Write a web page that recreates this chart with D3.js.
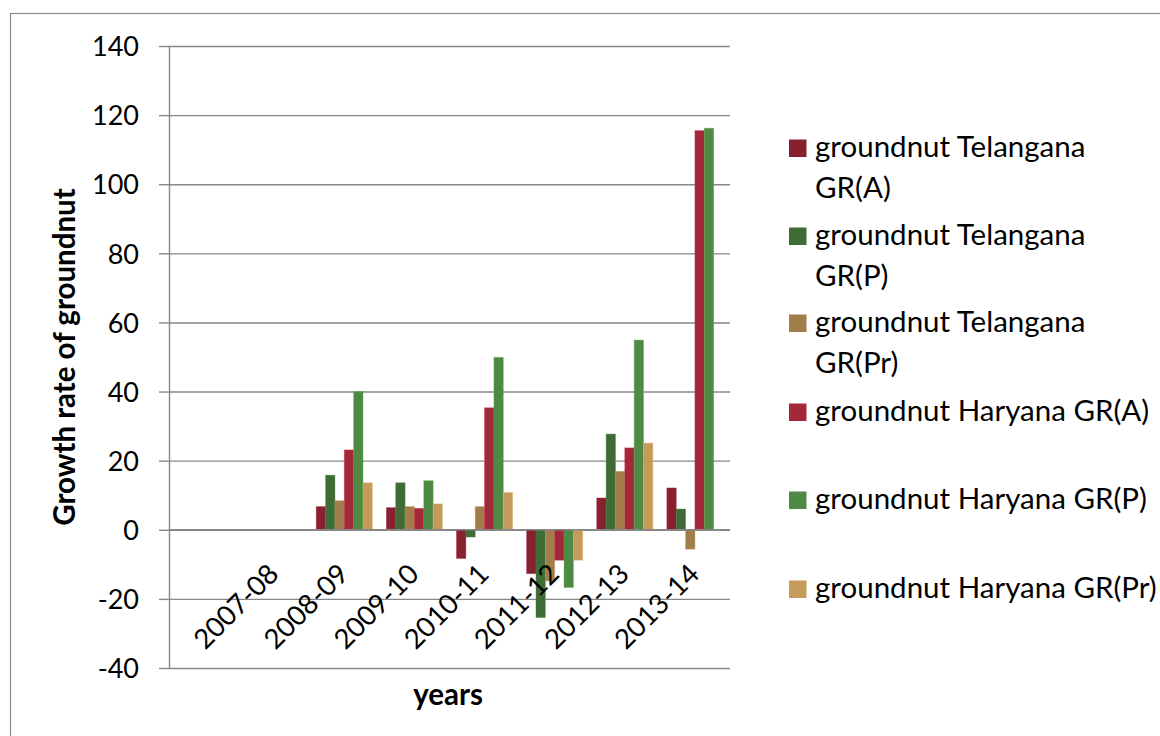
<!DOCTYPE html>
<html><head><meta charset="utf-8">
<script src="https://cdn.jsdelivr.net/npm/d3@7"></script>
<style>
body{margin:0;background:#fff;overflow:hidden}
text{font-family:Lato,"Open Sans",sans-serif;fill:#000}
</style>
</head><body>
<svg id="chart" width="1160" height="736"></svg>
<script>
// ---- data ----
const categories = ["", "2007-08", "2008-09", "2009-10", "2010-11", "2011-12", "2012-13", "2013-14"];
const seriesNames = ["groundnut Telangana GR(A)", "groundnut Telangana GR(P)", "groundnut Telangana GR(Pr)",
                     "groundnut Haryana GR(A)", "groundnut Haryana GR(P)", "groundnut Haryana GR(Pr)"];
const legendLines = [["groundnut Telangana", "GR(A)"], ["groundnut Telangana", "GR(P)"], ["groundnut Telangana", "GR(Pr)"],
                     ["groundnut Haryana GR(A)"], ["groundnut Haryana GR(P)"], ["groundnut Haryana GR(Pr)"]];
const telanganaA  = [null, null, 6.7, 6.4, -8.3, -12.7, 9.2, 12.1];
const telanganaP  = [null, null, 15.8, 13.6, -2.1, -25.4, 27.7, 6.0];
const telanganaPr = [null, null, 8.4, 6.7, 6.7, -14.8, 16.9, -5.6];
const haryanaA    = [null, null, 23.1, 6.2, 35.3, -8.8, 23.7, 115.5];
const haryanaP    = [null, null, 40.0, 14.2, 49.9, -16.7, 54.9, 116.2];
const haryanaPr   = [null, null, 13.6, 7.5, 10.8, -8.8, 25.1, 0.1];
const yTicks = [-40, -20, 0, 20, 40, 60, 80, 100, 120, 140];
const yTickLabels = ["-40", "-20", "0", "20", "40", "60", "80", "100", "120", "140"];
const colors = ["#87202F", "#3F6C36", "#A07D49", "#A3283A", "#4F8A44", "#C59B5C"];

const series = [telanganaA, telanganaP, telanganaPr, haryanaA, haryanaP, haryanaPr];

// ---- layout ----
const svg = d3.select("#chart");
const L = 169, R = 730, T = 46, B = 668;

svg.append("rect").attr("x", 10.5).attr("y", 13.5).attr("width", 1300).attr("height", 900)
   .attr("fill", "none").attr("stroke", "#8a8a8a").attr("stroke-width", 1.2);

const x = d3.scaleBand().domain(categories).range([L, R]).paddingInner(0).paddingOuter(0);
const xs = d3.scaleBand().domain(d3.range(series.length)).range([0, x.bandwidth()])
             .paddingInner(0).paddingOuter(0.75);
const y = d3.scaleLinear().domain([-40, 140]).range([B, T]);

// gridlines
svg.append("g").attr("transform", `translate(${L},0)`)
   .call(d3.axisLeft(y).tickValues(yTicks).tickSize(-(R - L)).tickFormat(""))
   .call(g => g.select(".domain").remove())
   .call(g => g.selectAll("line").attr("stroke", "#878787").attr("stroke-width", 1.4));

// y axis with outside ticks
svg.append("g").attr("transform", `translate(${L},0)`)
   .call(d3.axisLeft(y).tickValues(yTicks).tickSize(10).tickSizeOuter(0).tickPadding(20)
           .tickFormat((d, i) => yTickLabels[i]))
   .call(g => g.select(".domain").attr("stroke", "#878787").attr("stroke-width", 1.4))
   .call(g => g.selectAll("line").attr("stroke", "#878787").attr("stroke-width", 1.4))
   .call(g => g.selectAll("text").attr("font-size", 27).attr("font-family", "Lato").attr("fill", "#000").attr("dy", "0.36em"));

// bars
const bars = svg.append("g");
series.forEach((vals, si) => {
  bars.selectAll(null).data(categories.map((c, i) => ({c, v: vals[i]})).filter(d => d.v !== null))
    .enter().append("rect")
    .attr("x", d => x(d.c) + xs(si))
    .attr("width", xs.bandwidth())
    .attr("y", d => y(Math.max(0, d.v)))
    .attr("height", d => Math.abs(y(d.v) - y(0)))
    .attr("fill", colors[si])
    .attr("stroke", d3.color(colors[si]).brighter(0.5))
    .attr("stroke-opacity", 0.5)
    .attr("stroke-width", 0.8);
});

// zero / category axis
svg.append("line").attr("x1", L).attr("x2", R).attr("y1", y(0)).attr("y2", y(0))
   .attr("stroke", "#878787").attr("stroke-width", 1.4);

// category labels
const xAxis = svg.append("g").attr("transform", `translate(0,${y(0)})`)
   .call(d3.axisBottom(x).tickSize(0).tickPadding(0));
xAxis.select(".domain").remove();
xAxis.selectAll("text")
   .attr("font-size", 27.5).attr("font-family", "Lato").attr("fill", "#000")
   .attr("text-anchor", "end").attr("dy", 0).attr("y", 0)
   .attr("transform", "translate(6,46) rotate(-45)");

// axis titles
svg.append("text").attr("transform", `translate(75,357) rotate(-90)`)
   .attr("text-anchor", "middle").attr("font-size", 29.5).attr("font-weight", "bold")
   .text("Growth rate of groundnut");
svg.append("text").attr("x", 448).attr("y", 705).attr("text-anchor", "middle")
   .attr("font-size", 29.5).attr("font-weight", "bold").text("years");

// legend
const legendBase = [157, 245, 332, 421, 509, 598];
const leg = svg.append("g");
seriesNames.forEach((name, i) => {
  const g = leg.append("g").attr("transform", `translate(789,${legendBase[i]})`);
  g.append("rect").attr("x", 0).attr("y", -17.5).attr("width", 17.5).attr("height", 17.5).attr("fill", colors[i]);
  const t = g.append("text").attr("x", 26).attr("y", 0).attr("font-size", 29.5);
  legendLines[i].forEach((ln, k) => t.append("tspan").attr("x", 26).attr("dy", k === 0 ? 0 : 41).text(ln));
});
</script>
</body></html>
